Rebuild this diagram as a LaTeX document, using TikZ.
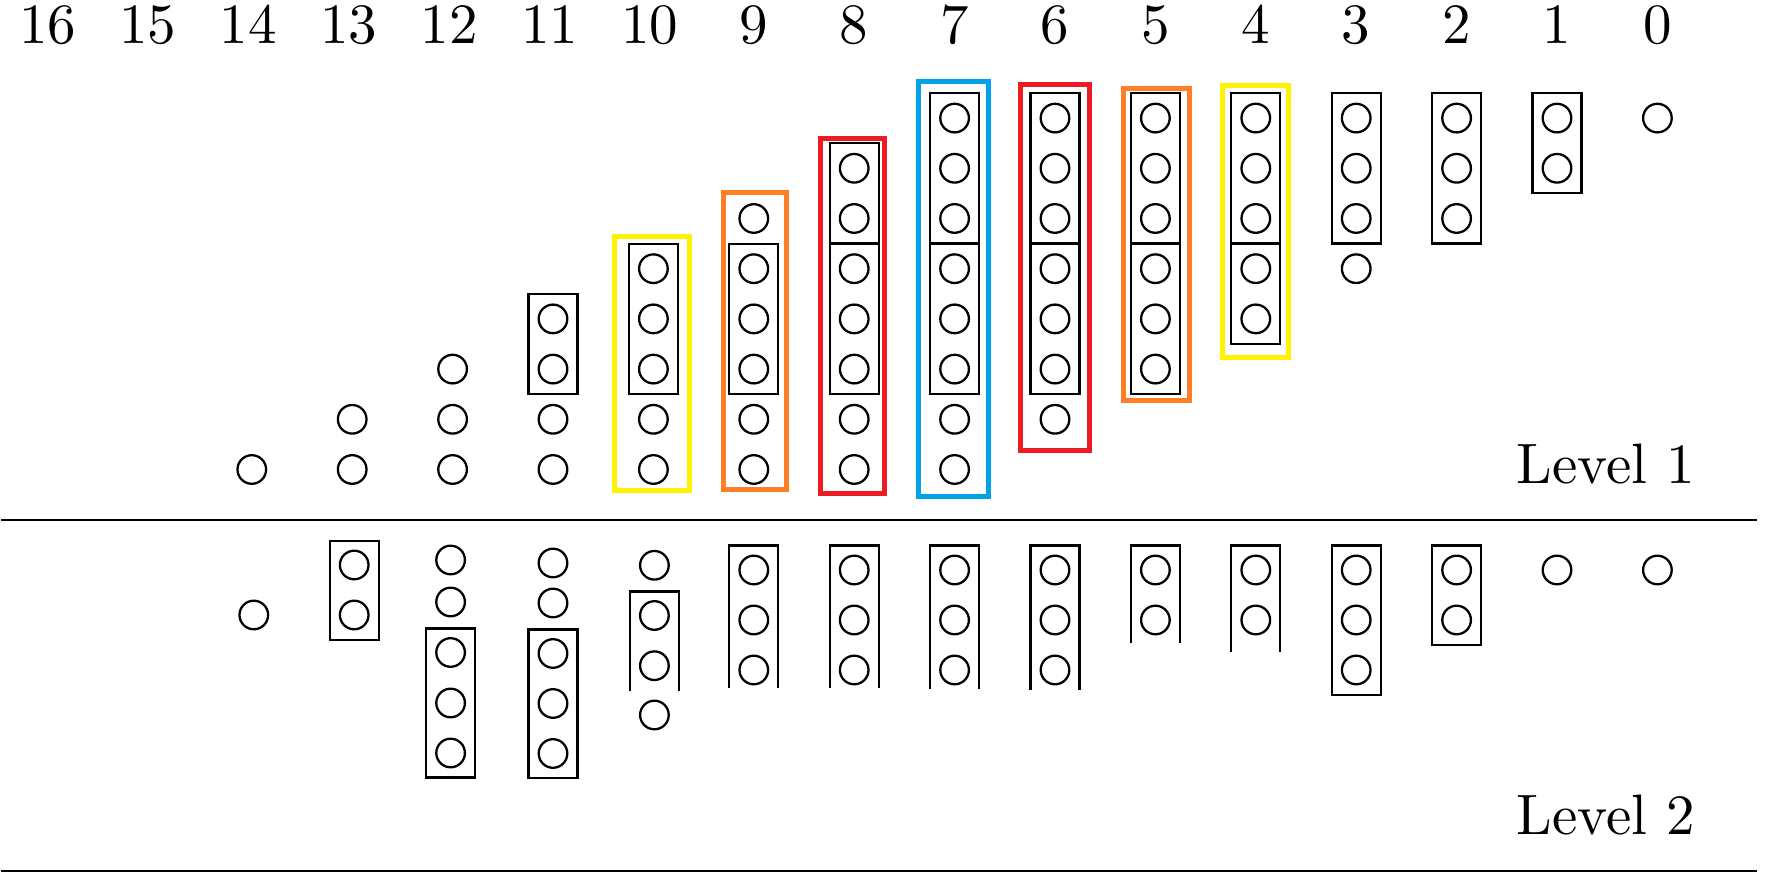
\documentclass[tikz,border=0pt]{standalone}
\usepackage{fontspec}
\usepackage{graphicx}
\usetikzlibrary{fit}
\definecolor{pyellow}{RGB}{255,242,0}
\definecolor{porange}{RGB}{255,127,39}
\definecolor{pred}{RGB}{237,28,36}
\definecolor{pblue}{RGB}{0,162,232}
\newcommand{\mylbl}[1]{\scalebox{1.62}{#1}}
\begin{document}
\begin{tikzpicture}[x=0.01cm,y=-0.01cm,
  dot/.style={circle,draw,line width=0.65pt,minimum size=0.286cm,inner sep=0pt,outer sep=0pt},
  stackbox/.style={draw,line width=0.65pt,rectangle,inner xsep=0.102cm,inner ysep=0.107cm,outer sep=0pt},
  blk/.style={draw,line width=0.65pt},
  hl/.style={draw,line width=1.42pt},
  lab/.style={inner sep=0pt,anchor=base,font=\fontsize{10}{12}\selectfont},
  rulestyle/.style={line width=0.65pt}]
\useasboundingbox (0,0) rectangle (1766,889);
% column labels
\foreach \c in {0,...,9} \node[lab] (n\c) at ({51+(16-\c)*100.4},43.3) {\mylbl{\c}};
\foreach \c in {10,...,16} \node[lab] (n\c) at ({47.5+(16-\c)*100.4},43.3) {\mylbl{\c}};
% Level 1 dots
\foreach \c in {0,...,14} {
  \pgfmathtruncatemacro\lo{max(1,8-\c)}
  \pgfmathtruncatemacro\hi{min(8,15-\c)}
  \foreach \r in {\lo,...,\hi}
    \node[dot] (a\c-\r) at ({51+(16-\c)*100.4},{469.5-50.2*(\r-1)}) {};
}
% Level 1 black boxes
\foreach \c/\b/\t in {11/3/4, 10/3/5, 9/3/5, 8/3/5, 8/6/7, 7/3/5, 7/6/8, 6/3/5, 6/6/8, 5/3/5, 5/6/8, 4/4/5, 4/6/8, 3/6/8, 2/6/8, 1/7/8}
  \node[stackbox, fit=(a\c-\b)(a\c-\t)] (box\c-\b) {};
% coloured boxes
\draw[hl,pyellow] (614.8,236.5) rectangle (689.8,490.8);
\draw[hl,porange] (723.5,192.5) rectangle (786.5,489.8);
\draw[hl,pred] (820.8,139) rectangle (884.2,493.5);
\draw[hl,pblue] (918.5,81.5) rectangle (988.5,496.5);
\draw[hl,pred] (1020.5,84.5) rectangle (1089.5,450.2);
\draw[hl,porange] (1123,88.5) rectangle (1189.5,400.2);
\draw[hl,pyellow] (1222.5,85.5) rectangle (1288.5,357.5);
% Level labels
\node[lab,anchor=base west] (lv1) at (1516,483.8) {\mylbl{Level 1}};
\node[lab,anchor=base west] (lv2) at (1516,835) {\mylbl{Level 2}};
% rules
\coordinate (r1a) at (1,520); \coordinate (r1b) at (1757,520);
\coordinate (r2a) at (1,871); \coordinate (r2b) at (1757,871);
\draw[rulestyle] (r1a) -- (r1b);
\draw[rulestyle] (r2a) -- (r2b);
% Level 2 dots (column, x shift, y positions)
\foreach \c/\dx/\ys in {14/2/{615}, 13/2/{565,615}, 12/-2/{560,602,652.5,703,753}, 11/0/{563,603,653.5,703.5,753.5},
  10/1/{565.3,615.5,665.7,715}, 9/0/{570,620,670}, 8/0/{570,620,670}, 7/0/{570,620,670}, 6/0/{570,620,670},
  5/0/{570,620}, 4/0/{570,620}, 3/0/{570,620,670}, 2/0/{570,620}, 1/0/{570}, 0/0/{570}} {
  \foreach \y [count=\k] in \ys
    \node[dot] (b\c-\k) at ({51+(16-\c)*100.4+\dx},\y) {};
}
% Level 2 closed boxes
\foreach \c/\dx/\t/\b in {13/2/541/640, 12/-2/628.5/777.5, 11/0/629.5/778, 3/0/545.5/695, 2/0/545.5/645}
  \draw[blk] ({51+(16-\c)*100.4+\dx-24.5},\t) rectangle ({51+(16-\c)*100.4+\dx+24.5},\b);
% Level 2 open boxes
\foreach \c/\dx/\t/\b in {10/1/591.5/690.7, 9/0/545.5/688, 8/0/545.5/688, 7/0/545.5/689, 6/0/545.5/690, 5/0/545.5/643, 4/0/545.5/652}
  \draw[blk] ({51+(16-\c)*100.4+\dx-24.5},\b) -- ({51+(16-\c)*100.4+\dx-24.5},\t) -- ({51+(16-\c)*100.4+\dx+24.5},\t) -- ({51+(16-\c)*100.4+\dx+24.5},\b);
\end{tikzpicture}
\end{document}
